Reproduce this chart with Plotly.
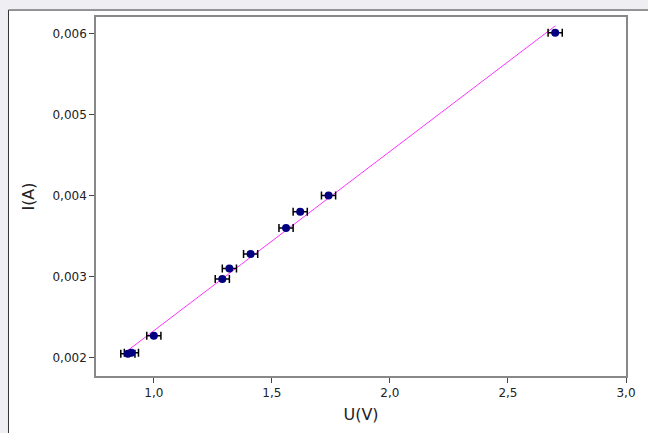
import numpy as np
import plotly.graph_objects as go

# Measured data
U_volts = [0.89, 0.905, 1.00, 1.29, 1.32, 1.41, 1.56, 1.62, 1.74, 2.70]
I_amps = [0.00205, 0.00206, 0.00227, 0.00297, 0.00310, 0.00328, 0.00360, 0.00380, 0.00400, 0.00601]
U_err = [0.03] * len(U_volts)

x_ticks = [1.0, 1.5, 2.0, 2.5, 3.0]
y_ticks = [0.002, 0.003, 0.004, 0.005, 0.006]

# Linear fit line
slope, intercept = np.polyfit(U_volts, I_amps, 1)
fit_x = [min(U_volts), max(U_volts)]
fit_y = [slope * v + intercept for v in fit_x]

W, H = 648, 433
ml, mr, mt, mb = 96, 19, 17, 55
pw, ph = W - ml - mr, H - mt - mb

fig = go.Figure()
fig.add_trace(go.Scatter(x=fit_x, y=fit_y, mode="lines",
                         line=dict(color="#ff33ff", width=1), showlegend=False))
fig.add_trace(go.Scatter(
    x=U_volts, y=I_amps, mode="markers",
    marker=dict(color="#000080", size=8, symbol="circle"),
    error_x=dict(type="data", array=U_err, color="black", thickness=1.5, width=4),
    showlegend=False))

def px_x(p):
    return (p - ml) / pw

def px_y(p):
    return (H - mb - p) / ph

fig.add_shape(type="rect", xref="paper", yref="paper", layer="below",
              x0=px_x(8), x1=px_x(652), y0=px_y(437), y1=px_y(10),
              fillcolor="white", line=dict(color="#333333", width=1))

fig.update_layout(
    width=W, height=H,
    margin=dict(l=ml, r=mr, t=mt, b=mb),
    paper_bgcolor="#efeff3", plot_bgcolor="white",
    separators=",.",
    font=dict(family="DejaVu Sans", size=12, color="#222222"),
)
fig.update_xaxes(range=[0.755, 3.0], tickvals=x_ticks, tickformat=".1f",
                 showgrid=False, zeroline=False, showline=True, linecolor="#888888",
                 linewidth=1.5, mirror=True, ticks="outside", ticklen=5, tickcolor="#444444",
                 title=dict(text="U(V)", font=dict(size=16), standoff=10))
fig.update_yaxes(range=[0.001774, 0.006204], tickvals=y_ticks, tickformat=".3f",
                 showgrid=False, zeroline=False, showline=True, linecolor="#888888",
                 linewidth=1.5, mirror=True, ticks="outside", ticklen=5, tickcolor="#444444",
                 title=dict(text="I(A)", font=dict(size=16), standoff=14))

fig.write_html("out.html", config={"displayModeBar": False},
               post_script="document.body.style.margin='0';document.body.style.overflow='hidden';")
